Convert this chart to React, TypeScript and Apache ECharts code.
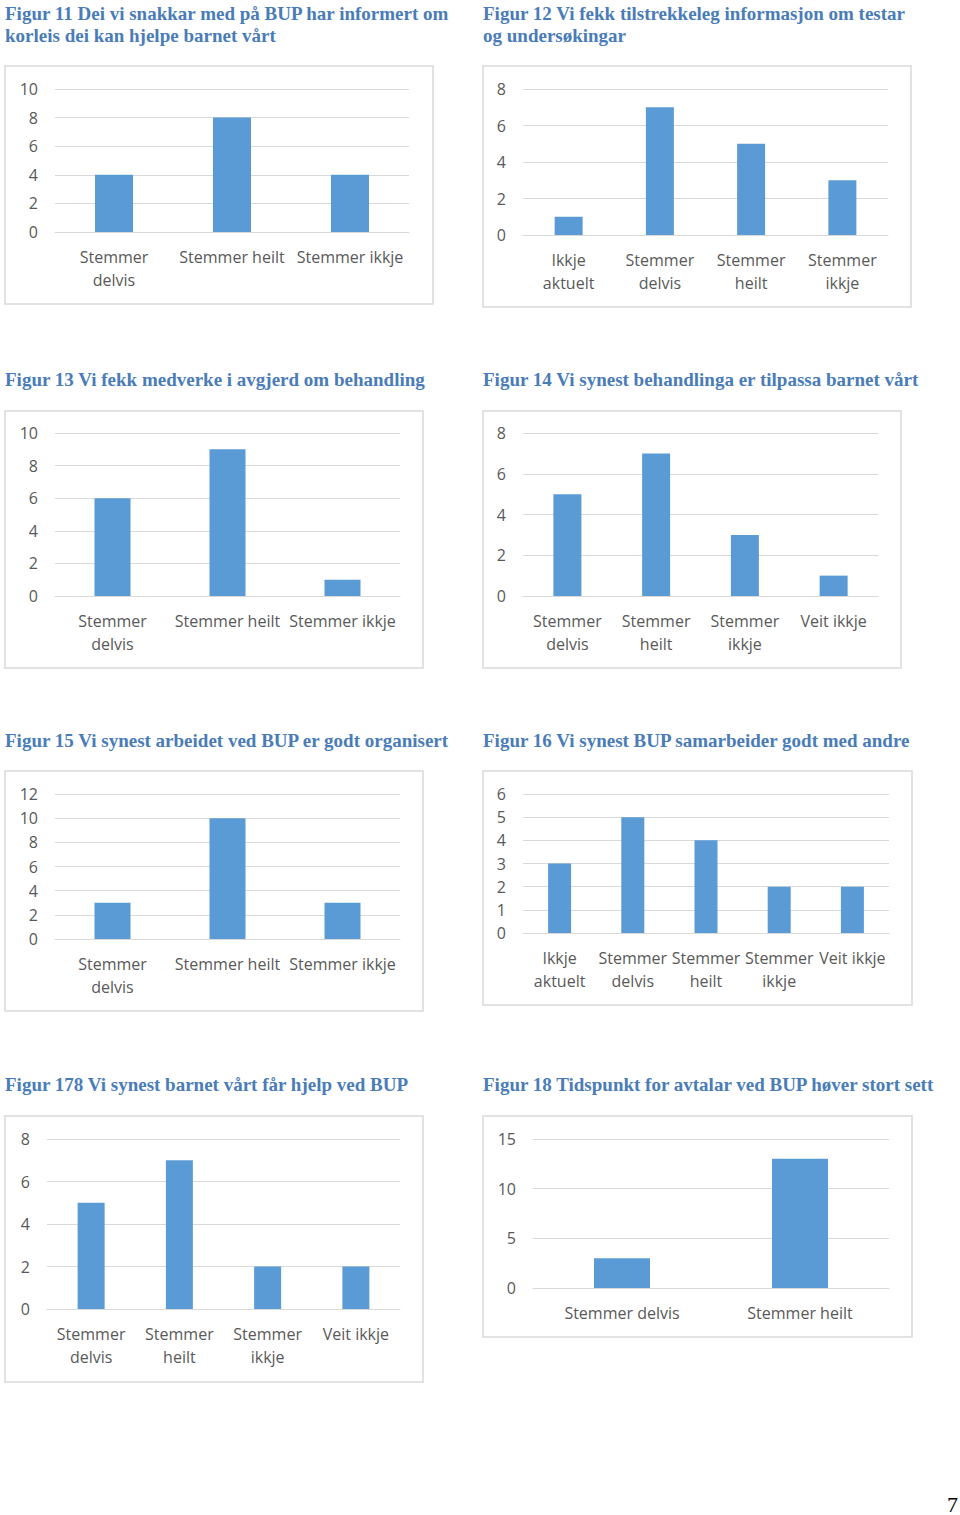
import React, { useEffect, useRef } from "react";
import * as echarts from "echarts";

// ---- data ----
const titles = [
  "Figur 11 Dei vi snakkar med på BUP har informert om\nkorleis dei kan hjelpe barnet vårt",
  "Figur 12 Vi fekk tilstrekkeleg informasjon om testar\nog undersøkingar",
  "Figur 13 Vi fekk medverke i avgjerd om behandling",
  "Figur 14 Vi synest behandlinga er tilpassa barnet vårt",
  "Figur 15 Vi synest arbeidet ved BUP er godt organisert",
  "Figur 16 Vi synest BUP samarbeider godt med andre",
  "Figur 178 Vi synest barnet vårt får hjelp ved BUP",
  "Figur 18 Tidspunkt for avtalar ved BUP høver stort sett",
];

const cats11 = ["Stemmer\ndelvis", "Stemmer heilt", "Stemmer ikkje"];
const vals11 = [4, 8, 4];
const cats12 = ["Ikkje\naktuelt", "Stemmer\ndelvis", "Stemmer\nheilt", "Stemmer\nikkje"];
const vals12 = [1, 7, 5, 3];
const cats13 = ["Stemmer\ndelvis", "Stemmer heilt", "Stemmer ikkje"];
const vals13 = [6, 9, 1];
const cats14 = ["Stemmer\ndelvis", "Stemmer\nheilt", "Stemmer\nikkje", "Veit ikkje"];
const vals14 = [5, 7, 3, 1];
const cats15 = ["Stemmer\ndelvis", "Stemmer heilt", "Stemmer ikkje"];
const vals15 = [3, 10, 3];
const cats16 = ["Ikkje\naktuelt", "Stemmer\ndelvis", "Stemmer\nheilt", "Stemmer\nikkje", "Veit ikkje"];
const vals16 = [3, 5, 4, 2, 2];
const cats17 = ["Stemmer\ndelvis", "Stemmer\nheilt", "Stemmer\nikkje", "Veit ikkje"];
const vals17 = [5, 7, 2, 2];
const cats18 = ["Stemmer delvis", "Stemmer heilt"];
const vals18 = [3, 13];

const axisMax = [10, 8, 10, 8, 12, 6, 8, 15];
const axisStep = [2, 2, 2, 2, 2, 1, 2, 5];
const pageNumber = "7";

const allCats = [cats11, cats12, cats13, cats14, cats15, cats16, cats17, cats18];
const allVals = [vals11, vals12, vals13, vals14, vals15, vals16, vals17, vals18];

// ---- layout ----
const layout = [
  { tx: 5, ty: 2, fx: 5, fy: 66, fw: 428, fh: 238, gl: 55, gt: 89, gw: 354, gh: 143, bw: 38 },
  { tx: 483, ty: 2, fx: 483, fy: 66, fw: 428, fh: 241, gl: 523, gt: 89, gw: 365, gh: 146, bw: 28 },
  { tx: 5, ty: 368, fx: 5, fy: 411, fw: 418, fh: 257, gl: 55, gt: 433, gw: 345, gh: 163, bw: 36 },
  { tx: 483, ty: 368, fx: 483, fy: 411, fw: 418, fh: 257, gl: 523, gt: 433, gw: 355, gh: 163, bw: 28 },
  { tx: 5, ty: 729, fx: 5, fy: 771, fw: 418, fh: 240, gl: 55, gt: 794, gw: 345, gh: 145, bw: 36 },
  { tx: 483, ty: 729, fx: 483, fy: 771, fw: 429, fh: 234, gl: 523, gt: 794, gw: 366, gh: 139, bw: 23 },
  { tx: 5, ty: 1073, fx: 5, fy: 1116, fw: 418, fh: 266, gl: 47, gt: 1139, gw: 353, gh: 170, bw: 27 },
  { tx: 483, ty: 1073, fx: 483, fy: 1116, fw: 429, fh: 221, gl: 533, gt: 1139, gw: 356, gh: 149, bw: 56 },
];

const TITLE_COLOR = "#4a7cb8";
const LABEL_COLOR = "#595959";
const GRID_COLOR = "#d9d9d9";
const BAR_COLOR = "#5B9BD5";
const LABEL_FONT = "'Open Sans', 'Noto Sans', sans-serif";

export default function App() {
  const ref = useRef<HTMLDivElement>(null);

  useEffect(() => {
    if (!ref.current) return;
    const chart = echarts.init(ref.current, undefined, { renderer: "svg" });

    const option: any = {
      animation: false,
      backgroundColor: "#ffffff",
      title: titles.map((t, i) => ({
        text: t,
        left: layout[i].tx,
        top: layout[i].ty,
        padding: 0,
        textStyle: {
          fontFamily: "'Liberation Serif', 'Times New Roman', serif",
          fontWeight: "bold",
          fontSize: 19,
          lineHeight: 22,
          color: TITLE_COLOR,
        },
      })),
      grid: layout.map((l) => ({
        left: l.gl,
        top: l.gt,
        width: l.gw,
        height: l.gh,
        containLabel: false,
      })),
      xAxis: allCats.map((c, i) => ({
        type: "category",
        gridIndex: i,
        data: c,
        axisLine: { show: true, lineStyle: { color: GRID_COLOR, width: 1 } },
        axisTick: { show: false },
        axisLabel: {
          interval: 0,
          margin: 13,
          color: LABEL_COLOR,
          fontFamily: LABEL_FONT,
          fontSize: 16,
          lineHeight: 23,
        },
      })),
      yAxis: axisMax.map((m, i) => ({
        type: "value",
        gridIndex: i,
        min: 0,
        max: m,
        interval: axisStep[i],
        axisLine: { show: false },
        axisTick: { show: false },
        splitLine: { show: true, lineStyle: { color: GRID_COLOR, width: 1 } },
        axisLabel: {
          margin: 17,
          color: LABEL_COLOR,
          fontFamily: LABEL_FONT,
          fontSize: 16,
        },
      })),
      series: allVals.map((v, i) => ({
        type: "bar",
        xAxisIndex: i,
        yAxisIndex: i,
        data: v,
        barWidth: layout[i].bw,
        itemStyle: { color: BAR_COLOR },
      })),
      graphic: [
        ...layout.map((l) => ({
          type: "rect",
          z: -10,
          shape: { x: l.fx, y: l.fy, width: l.fw, height: l.fh },
          style: { fill: "none", stroke: GRID_COLOR, lineWidth: 1.5 },
          silent: true,
        })),
        {
          type: "text",
          x: 947,
          y: 1493,
          style: {
            text: pageNumber,
            font: "22px 'Liberation Serif', serif",
            fill: "#000000",
          },
        },
      ],
    };

    chart.setOption(option);
    return () => chart.dispose();
  }, []);

  return (
    <div
      ref={ref}
      style={{ position: "absolute", left: 0, top: 0, width: 960, height: 1515 }}
    />
  );
}
